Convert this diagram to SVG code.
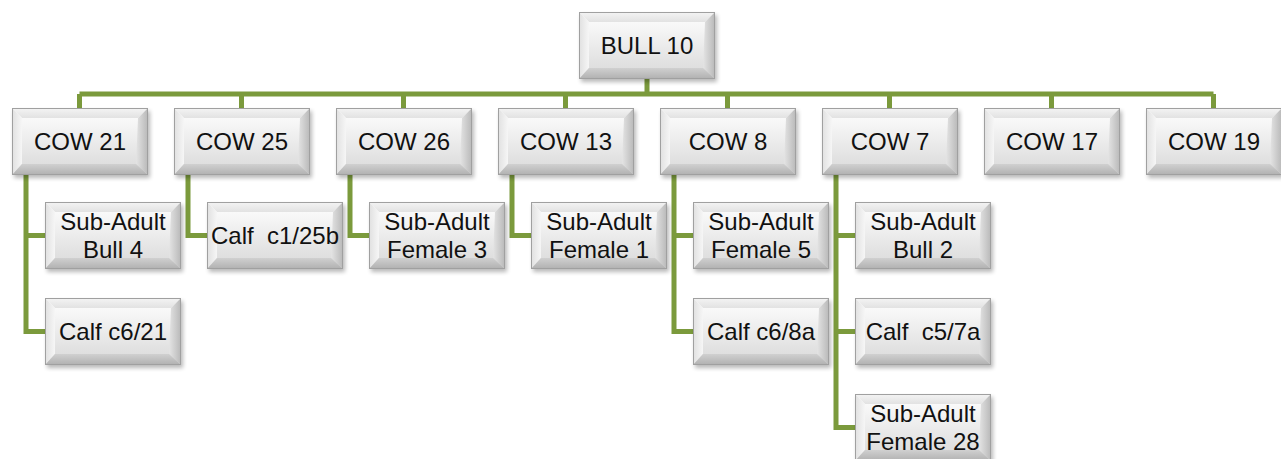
<svg xmlns="http://www.w3.org/2000/svg" xmlns:xlink="http://www.w3.org/1999/xlink" width="1281" height="459" viewBox="0 0 1281 459">
<defs>
<linearGradient id="gFace" x1="0" y1="0" x2="0" y2="1"><stop offset="0" stop-color="#ffffff"/><stop offset="1" stop-color="#d8d8d8"/></linearGradient>
<linearGradient id="gTop" x1="0" y1="0" x2="0" y2="1"><stop offset="0" stop-color="#f4f4f4"/><stop offset="1" stop-color="#e2e2e2"/></linearGradient>
<linearGradient id="gLeft" x1="0" y1="0" x2="1" y2="0"><stop offset="0" stop-color="#e0e0e0"/><stop offset="1" stop-color="#f6f6f6"/></linearGradient>
<linearGradient id="gRight" x1="0" y1="0" x2="1" y2="0"><stop offset="0" stop-color="#e4e4e4"/><stop offset="1" stop-color="#b8b8b8"/></linearGradient>
<linearGradient id="gBot" x1="0" y1="0" x2="0" y2="1"><stop offset="0" stop-color="#d0d0d0"/><stop offset="1" stop-color="#b0b0b0"/></linearGradient>
<filter id="sh" x="-10%" y="-10%" width="130%" height="140%"><feGaussianBlur stdDeviation="2"/></filter>
<g id="box">
<rect x="2" y="3" width="136" height="67" fill="#000" opacity="0.28" filter="url(#sh)"/>
<rect x="0" y="0" width="136" height="67" fill="url(#gFace)"/>
<polygon points="0,0 136,0 126,10 10,10" fill="url(#gTop)"/>
<polygon points="0,0 10,10 10,56 0,67" fill="url(#gLeft)"/>
<polygon points="136,0 136,67 124,56 126,10" fill="url(#gRight)"/>
<polygon points="0,67 10,56 124,56 136,67" fill="url(#gBot)"/>
<rect x="0.5" y="0.5" width="135" height="66" fill="none" stroke="#a0a0a0" stroke-width="1"/>
</g>
</defs>
<style>
text{font-family:"Liberation Sans",Arial,sans-serif;font-size:24px;fill:#111;text-anchor:middle;white-space:pre}
.c{fill:none;stroke:#7b9a3c;stroke-width:5;stroke-linejoin:miter}
</style>
<rect width="1281" height="459" fill="#fff"/>
<g id="connectors">
<path class="c" d="M647 79V94M79.5 94H1213.5M79.5 94V108M241.5 94V108M403.5 94V108M565.5 94V108M727.5 94V108M889.5 94V108M1051.5 94V108M1213.5 94V108"/>
<path class="c" d="M26 175V331.5H45M26 235.5H45"/>
<path class="c" d="M188 175V235.5H207"/>
<path class="c" d="M350 175V235.5H369"/>
<path class="c" d="M512 175V235.5H531"/>
<path class="c" d="M674 175V331.5H693M674 235.5H693"/>
<path class="c" d="M836 175V427.5H855M836 235.5H855M836 331.5H855"/>
</g>
<g id="bull10" transform="translate(579,12)"><use href="#box"/><text x="68" y="42">BULL 10</text></g>
<g id="cow21" transform="translate(12,108)"><use href="#box"/><text x="68" y="42">COW 21</text></g>
<g id="cow25" transform="translate(174,108)"><use href="#box"/><text x="68" y="42">COW 25</text></g>
<g id="cow26" transform="translate(336,108)"><use href="#box"/><text x="68" y="42">COW 26</text></g>
<g id="cow13" transform="translate(498,108)"><use href="#box"/><text x="68" y="42">COW 13</text></g>
<g id="cow8" transform="translate(660,108)"><use href="#box"/><text x="68" y="42">COW 8</text></g>
<g id="cow7" transform="translate(822,108)"><use href="#box"/><text x="68" y="42">COW 7</text></g>
<g id="cow17" transform="translate(984,108)"><use href="#box"/><text x="68" y="42">COW 17</text></g>
<g id="cow19" transform="translate(1146,108)"><use href="#box"/><text x="68" y="42">COW 19</text></g>
<g id="sab4" transform="translate(45,202)"><use href="#box"/><text x="68" y="28">Sub-Adult</text><text x="68" y="56">Bull 4</text></g>
<g id="calf621" transform="translate(45,298)"><use href="#box"/><text x="68" y="42">Calf c6/21</text></g>
<g id="calf125b" transform="translate(207,202)"><use href="#box"/><text x="68" y="42">Calf  c1/25b</text></g>
<g id="saf3" transform="translate(369,202)"><use href="#box"/><text x="68" y="28">Sub-Adult</text><text x="68" y="56">Female 3</text></g>
<g id="saf1" transform="translate(531,202)"><use href="#box"/><text x="68" y="28">Sub-Adult</text><text x="68" y="56">Female 1</text></g>
<g id="saf5" transform="translate(693,202)"><use href="#box"/><text x="68" y="28">Sub-Adult</text><text x="68" y="56">Female 5</text></g>
<g id="calf68a" transform="translate(693,298)"><use href="#box"/><text x="68" y="42">Calf c6/8a</text></g>
<g id="sab2" transform="translate(855,202)"><use href="#box"/><text x="68" y="28">Sub-Adult</text><text x="68" y="56">Bull 2</text></g>
<g id="calf57a" transform="translate(855,298)"><use href="#box"/><text x="68" y="42">Calf  c5/7a</text></g>
<g id="saf28" transform="translate(855,394)"><use href="#box"/><text x="68" y="28">Sub-Adult</text><text x="68" y="56">Female 28</text></g>
</svg>
